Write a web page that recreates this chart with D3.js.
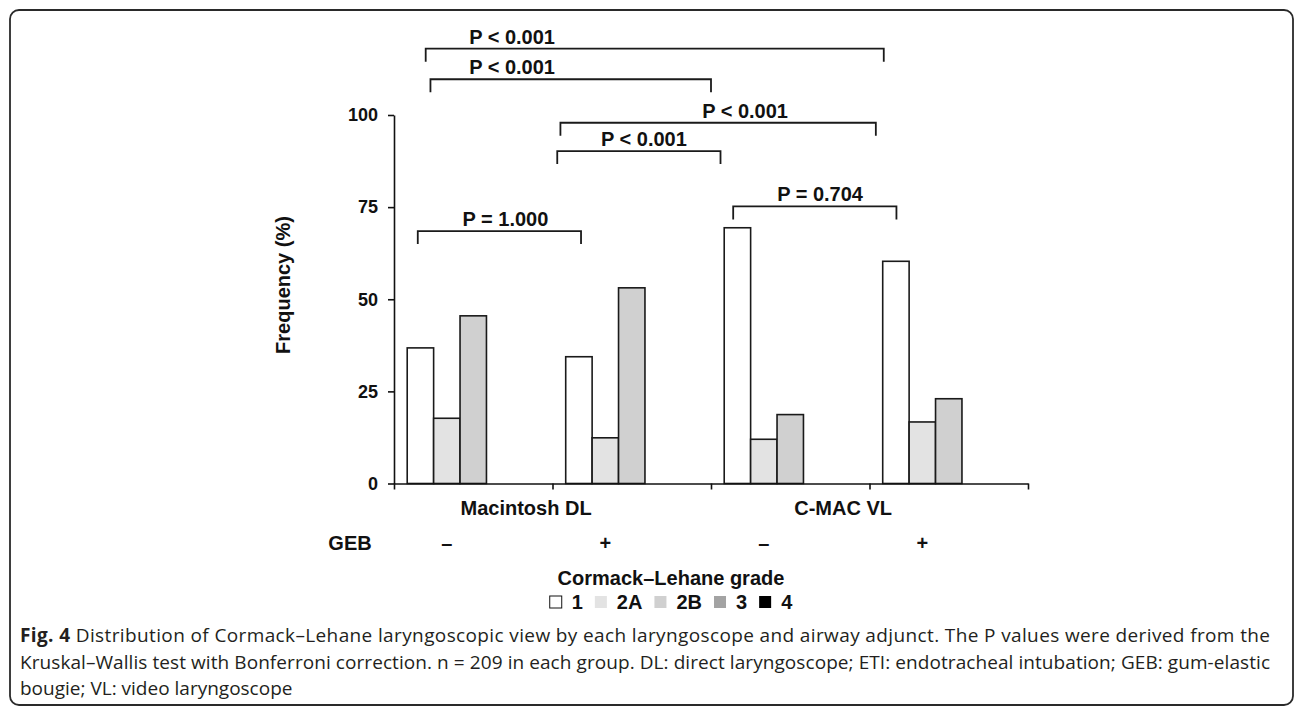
<!DOCTYPE html>
<html>
<head>
<meta charset="utf-8">
<script src="https://cdn.jsdelivr.net/npm/d3@7/dist/d3.min.js"></script>
<style>
  html, body { margin: 0; padding: 0; background: #fff; }
  svg { display: block; }
  .lbl { font-family: "Liberation Sans", Arial, sans-serif; font-weight: bold; fill: #111; }
  .cap { font-family: "Open Sans", "Noto Sans", sans-serif; fill: #231f20; }
</style>
</head>
<body>
<svg id="chart" width="1296" height="708"></svg>
<script>
// ---------- data ----------
const devices = ["Macintosh DL", "C-MAC VL"];
const gebLabels = ["–", "+", "–", "+"];
const grades = ["1", "2A", "2B", "3", "4"];
const gradeColors = ["#ffffff", "#e3e3e3", "#d0d0d0", "#a3a3a3", "#000000"];
// frequency (%) per group: Mac DL GEB-, Mac DL GEB+, C-MAC GEB-, C-MAC GEB+
const grade1  = [36.8, 34.4, 69.4, 60.3];
const grade2A = [17.7, 12.4, 12.0, 16.7];
const grade2B = [45.5, 53.1, 18.7, 23.0];
const grade3  = [0, 0, 0, 0];
const grade4  = [0, 0, 0, 0];
const yTicks = [0, 25, 50, 75, 100];
// significance brackets: positions in category units, heights in % units
const bracketLabels = ["P < 0.001", "P < 0.001", "P < 0.001", "P < 0.001", "P = 0.704", "P = 1.000"];
const bracketFrom   = [0.20, 0.23, 1.05, 1.03, 2.14, 0.15];
const bracketTo     = [3.09, 2.00, 3.04, 2.06, 3.17, 1.18];
const bracketLevel  = [118.0, 109.7, 97.9, 90.2, 75.2, 68.5];
const bracketTextAt = [0.745, 0.745, 2.215, 1.577, 2.688, 0.703];
const captionLines = [
  [["Fig. 4", true], [" Distribution of Cormack–Lehane laryngoscopic view by each laryngoscope and airway adjunct. The P values were derived from the", false]],
  [["Kruskal–Wallis test with Bonferroni correction. n = 209 in each group. DL: direct laryngoscope; ETI: endotracheal intubation; GEB: gum-elastic", false]],
  [["bougie; VL: video laryngoscope", false]]
];
const captionJustify = [true, true, false];

const seriesVals = [grade1, grade2A, grade2B, grade3, grade4];
const svg = d3.select("#chart");

// frame
svg.append("rect").attr("x", 10).attr("y", 10).attr("width", 1283).attr("height", 695)
  .attr("rx", 9).attr("ry", 9).attr("fill", "none").attr("stroke", "#2a2a2a").attr("stroke-width", 1.8);

// scales
const x0 = d3.scaleBand().domain(d3.range(4)).range([394, 1028]).paddingInner(1/6).paddingOuter(1/12);
const x1 = d3.scaleBand().domain(grades).range([0, x0.bandwidth()]);
const xl = d3.scaleLinear().domain([0, 4]).range([394, 1028]);
const y = d3.scaleLinear().domain([0, 100]).range([483.5, 115]);

// bars
const g = svg.append("g");
d3.range(4).forEach(gi => {
  grades.forEach((gr, si) => {
    const v = seriesVals[si][gi];
    g.append("rect")
      .attr("x", x0(gi) + x1(gr))
      .attr("y", y(v))
      .attr("width", x1.bandwidth())
      .attr("height", y(0) - y(v))
      .attr("fill", gradeColors[si])
      .attr("stroke", "#1a1a1a")
      .attr("stroke-width", v > 0 ? 1.6 : 0);
  });
});

// y axis
const yAxis = svg.append("g").attr("transform", "translate(394,0)")
  .call(d3.axisLeft(y).tickValues(yTicks).tickSize(6).tickPadding(10).tickSizeOuter(0));
yAxis.select(".domain").attr("stroke", "#111").attr("stroke-width", 1.6);
yAxis.selectAll(".tick line").attr("stroke", "#111").attr("stroke-width", 1.6);
yAxis.selectAll(".tick text").attr("class", "lbl").style("font-size", "18px")
  .attr("font-family", null).attr("fill", "#111");

// x axis
const xAxis = svg.append("g").attr("transform", `translate(0,${y(0)})`)
  .call(d3.axisBottom(xl).tickValues(d3.range(5)).tickSize(6).tickFormat("").tickSizeOuter(0));
xAxis.select(".domain").attr("stroke", "#111").attr("stroke-width", 1.6);
xAxis.selectAll(".tick line").attr("stroke", "#111").attr("stroke-width", 1.6);

// group centers (over drawn bars 1..2B)
const groupCenter = gi => x0(gi) + x1("2A") + x1.bandwidth() / 2;

// device labels
devices.forEach((d, i) => {
  svg.append("text").attr("class", "lbl")
    .attr("x", (groupCenter(2 * i) + groupCenter(2 * i + 1)) / 2)
    .attr("y", 515).attr("text-anchor", "middle").style("font-size", "20px").text(d);
});
// GEB row
svg.append("text").attr("class", "lbl").attr("x", 350).attr("y", 550)
  .attr("text-anchor", "middle").style("font-size", "20px").text("GEB");
gebLabels.forEach((s, i) => {
  svg.append("text").attr("class", "lbl").attr("x", groupCenter(i)).attr("y", 550)
    .attr("text-anchor", "middle").style("font-size", "20px").text(s);
});

// y title
svg.append("text").attr("class", "lbl")
  .attr("transform", "translate(290,285) rotate(-90)")
  .attr("text-anchor", "middle").style("font-size", "20px").text("Frequency (%)");

// brackets
bracketLabels.forEach((lab, i) => {
  const xa = xl(bracketFrom[i]), xb = xl(bracketTo[i]), yy = y(bracketLevel[i]);
  svg.append("path")
    .attr("d", `M${xa},${yy + 13}V${yy}H${xb}V${yy + 13}`)
    .attr("fill", "none").attr("stroke", "#1a1a1a").attr("stroke-width", 1.8);
  svg.append("text").attr("class", "lbl").attr("x", xl(bracketTextAt[i])).attr("y", yy - 5)
    .attr("text-anchor", "middle").style("font-size", "20px").text(lab);
});

// legend
svg.append("text").attr("class", "lbl").attr("x", 671).attr("y", 585)
  .attr("text-anchor", "middle").style("font-size", "20px").text("Cormack–Lehane grade");
const leg = svg.append("g");
let lx = 0;
grades.forEach((gr, i) => {
  leg.append("rect").attr("x", lx).attr("y", -13).attr("width", 12).attr("height", 12)
    .attr("fill", gradeColors[i]).attr("stroke", i === 0 ? "#111" : "none").attr("stroke-width", 1);
  const t = leg.append("text").attr("class", "lbl").attr("x", lx + 22).attr("y", 0)
    .style("font-size", "20px").text(gr);
  lx += 22 + t.node().getComputedTextLength() + 12;
});
lx -= 12;
leg.attr("transform", `translate(${671 - lx / 2},609)`);

// caption (justified like the journal layout)
const cap = svg.append("g");
captionLines.forEach((line, li) => {
  const t = cap.append("text").attr("class", "cap").attr("x", 20).attr("y", 642 + li * 26.5)
    .style("font-size", "19px");
  line.forEach(([s, b]) => t.append("tspan").attr("font-weight", b ? "bold" : "normal").text(s));
  if (captionJustify[li]) {
    t.attr("textLength", 1250).attr("lengthAdjust", "spacing");
  }
});
</script>
</body>
</html>
